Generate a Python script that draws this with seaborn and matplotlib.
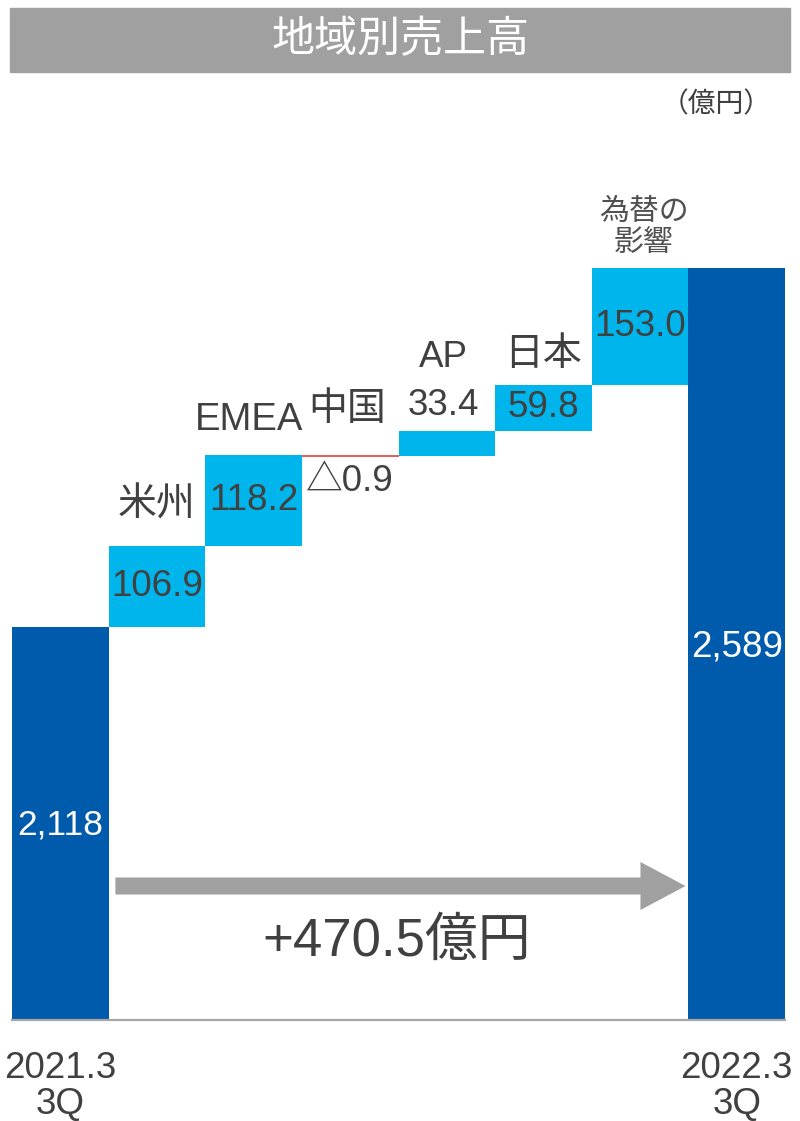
import matplotlib
matplotlib.use("Agg")
import matplotlib.pyplot as plt
from matplotlib.patches import Rectangle
import seaborn as sns
import numpy as np

# ---- data ----
categories = ["2021.3\n3Q", "米州", "EMEA", "中国", "AP", "日本", "為替の\n影響", "2022.3\n3Q"]
start_total = 2118
deltas = [106.9, 118.2, -0.9, 33.4, 59.8, 153.0]
end_total = 2589
total_label = "+470.5億円"

sns.set_theme(style="white")
plt.rcParams["font.family"] = ["Liberation Sans", "Noto Sans CJK JP", "DejaVu Sans"]

DARK = "#005BAC"
LIGHT = "#00B5EC"
TXT = "#404040"

# cumulative levels
levels = [start_total]
for d in deltas:
    levels.append(levels[-1] + d)
tops = [start_total] + [max(levels[i], levels[i + 1]) for i in range(len(deltas))] + [end_total]
bases = [0] + [min(levels[i], levels[i + 1]) for i in range(len(deltas))] + [0]

colors = [DARK] + [LIGHT if d >= 0 else "white" for d in deltas] + [DARK]

W, H = 800, 1121
fig = plt.figure(figsize=(W / 100, H / 100), dpi=100)
ax = fig.add_axes([12 / W, 101 / H, 773 / W, 920 / H])

pxu = 359 / 471  # px per unit
ymin = 1602.4
ax.set_ylim(ymin, ymin + 920 / pxu)

sns.barplot(x=categories, y=tops, hue=categories, palette=colors, width=1.0,
            saturation=1, legend=False, ax=ax, linewidth=0)
sns.barplot(x=categories, y=bases, color="white", width=1.0, saturation=1,
            ax=ax, linewidth=0)
ax.set_xlim(-0.5, len(categories) - 0.5)

# negative delta line (China)
for i, d in enumerate(deltas):
    if d < 0:
        ax.hlines(levels[i + 1] + abs(d) / 2, i + 1 - 0.5, i + 1 + 0.5, color="#E04040", lw=1.2)

for s in ["top", "left", "right"]:
    ax.spines[s].set_visible(False)
ax.spines["bottom"].set_color("#A6A6A6")
ax.spines["bottom"].set_linewidth(1.6)
ax.set_yticks([])
ax.set_ylabel("")
ax.tick_params(axis="x", length=0, pad=22)
ax.set_xticks(range(len(categories)))
ax.set_xticklabels([categories[0]] + [""] * (len(categories) - 2) + [categories[-1]],
                   fontsize=26.5, color=TXT, linespacing=1.06)

def pt(px):
    return px * 0.72

NUM = 26.5
CJK = 28

def lab(i, y, text, dy_px=0, color=TXT, size=NUM, dx_px=0):
    ax.annotate(text, (i, y), xytext=(pt(dx_px), pt(dy_px)), textcoords="offset points",
                ha="center", va="center", fontsize=size, color=color)

# totals
lab(0, start_total, f"{start_total:,}", dy_px=-(825 - 627), color="white", size=25.5)
lab(7, end_total, f"{end_total:,}", dy_px=-(647 - 268), color="white", size=26.5)

# 米州
lab(1, (tops[1] + bases[1]) / 2, f"{deltas[0]:.1f}")
lab(1, tops[1], categories[1], dy_px=40, size=CJK)
# EMEA
lab(2, (tops[2] + bases[2]) / 2, f"{deltas[1]:.1f}")
lab(2, tops[2], categories[2], dy_px=35, size=27.5, dx_px=-4)
# 中国
lab(3, tops[3], categories[3], dy_px=45, dx_px=-3, size=CJK)
lab(3, bases[3], f"△{abs(deltas[2]):.1f}", dy_px=-25)
# AP
lab(4, tops[4], f"{deltas[3]:.1f}", dy_px=25, dx_px=-3)
lab(4, tops[4], categories[4], dy_px=73, dx_px=-3)
# 日本
lab(5, (tops[5] + bases[5]) / 2, f"{deltas[4]:.1f}")
lab(5, tops[5], categories[5], dy_px=30, size=CJK)
# 為替
lab(6, (tops[6] + bases[6]) / 2, f"{deltas[5]:.1f}")
ax.annotate(categories[6], (6, tops[6]), xytext=(pt(4), pt(41)), textcoords="offset points",
            ha="center", va="center", fontsize=21.5, color="#505050", linespacing=1.15)

# arrow
y_arrow = ymin + (1020 - 886) / pxu
ax.annotate("", xy=(6.47, y_arrow), xytext=(0.57, y_arrow),
            arrowprops=dict(width=pt(17), headwidth=pt(48), headlength=pt(45),
                            shrink=0, color="#A0A0A0", lw=0))
ax.text((397 - 12) / 773, (1020 - 942) / 920, total_label, transform=ax.transAxes,
        ha="center", va="center", fontsize=38, color=TXT)

# title band
fig.patches.append(Rectangle((10 / W, (H - 72) / H), 780 / W, 64 / H,
                             transform=fig.transFigure, color="#A0A0A0", zorder=0))
fig.text(401 / W, 1 - 41 / H, "地域別売上高", ha="center", va="center",
         fontsize=31, color="white")
fig.text(772 / W, 1 - 105 / H, "（億円）", ha="right", va="center",
         fontsize=20, color=TXT)

fig.savefig("out.png", dpi=100)
